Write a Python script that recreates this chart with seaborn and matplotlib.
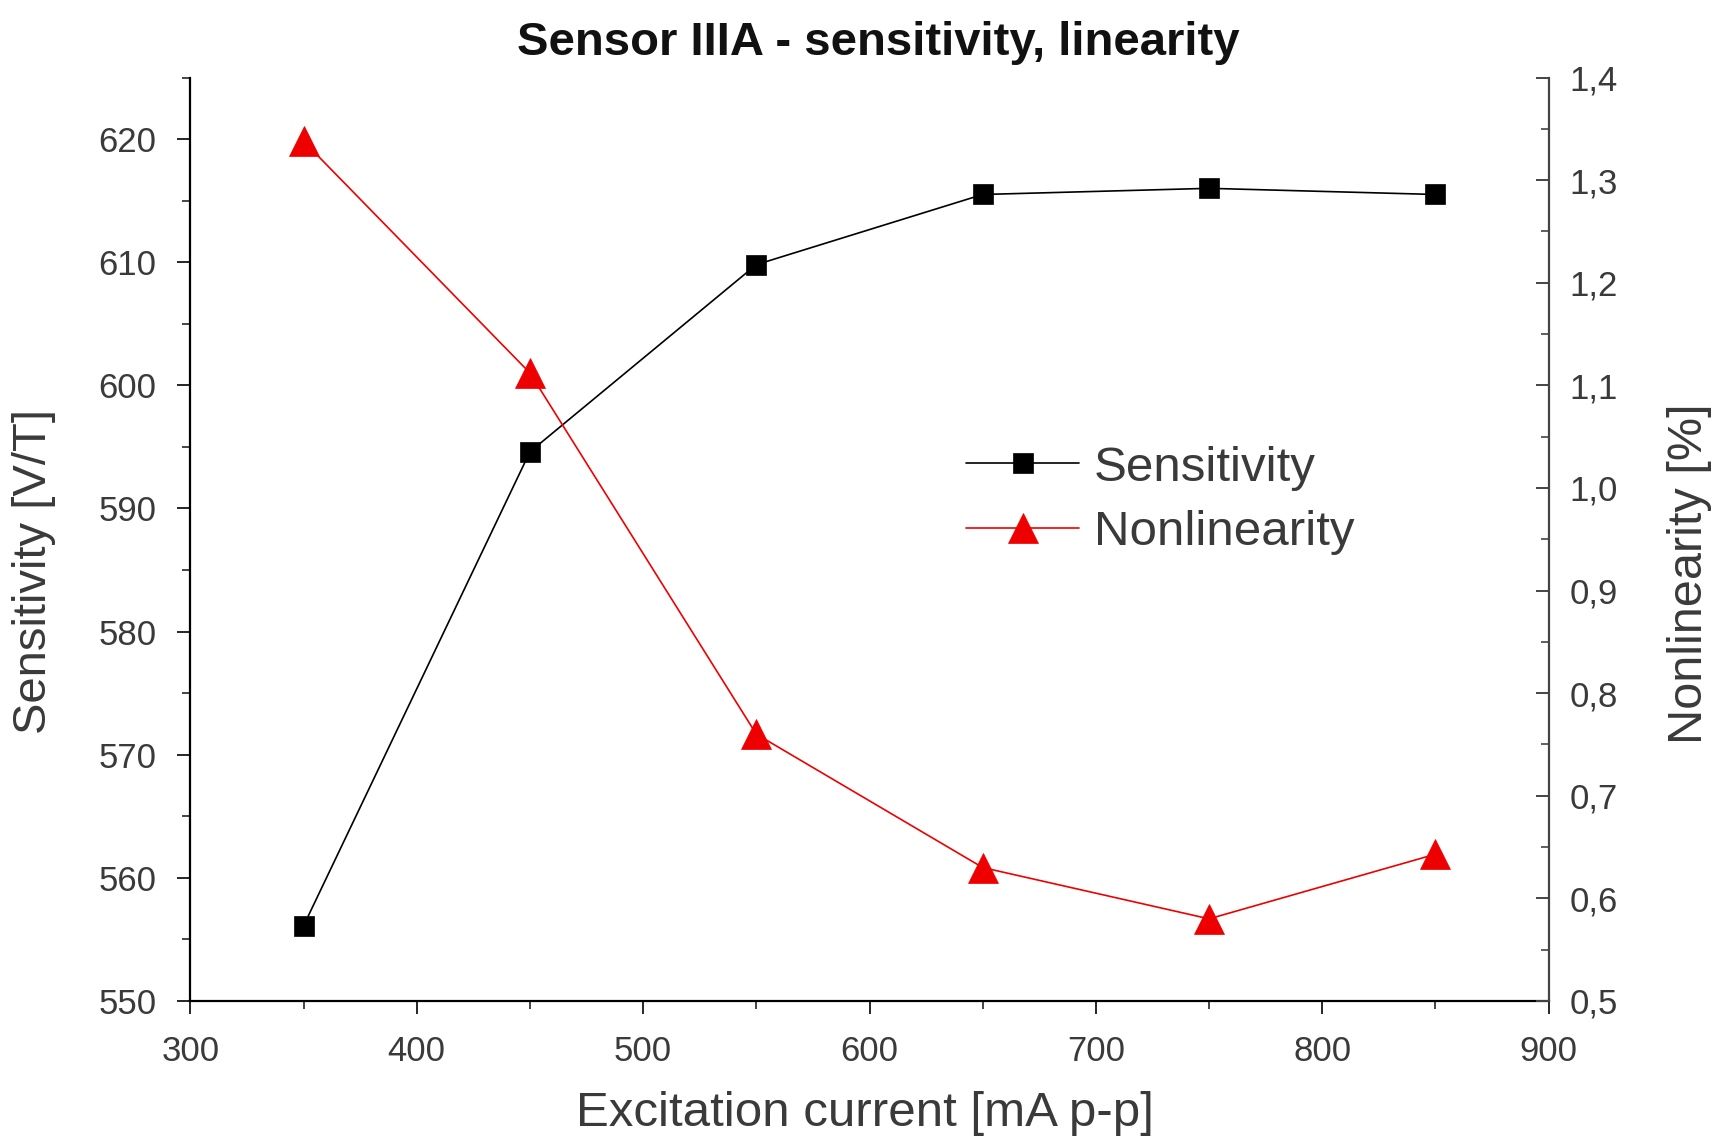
"""
Sensor IIIA - sensitivity and nonlinearity vs excitation current (twin y axes).
"""

import matplotlib
matplotlib.use("Agg")
import matplotlib.pyplot as plt
import pandas as pd
import seaborn as sns
from matplotlib.ticker import FuncFormatter, MultipleLocator

EXCITATION_MA = [350, 450, 550, 650, 750, 850]
SENSITIVITY_VT = [556.1, 594.6, 609.8, 615.5, 616.0, 615.5]
NONLINEARITY_PCT = [1.338, 1.112, 0.760, 0.630, 0.580, 0.643]

X_TICKS = [300, 400, 500, 600, 700, 800, 900]
LEFT_TICKS = [550, 560, 570, 580, 590, 600, 610, 620]
RIGHT_TICKS = [0.5, 0.6, 0.7, 0.8, 0.9, 1.0, 1.1, 1.2, 1.3, 1.4]

TEXT_GREY = "#3a3a3a"


def comma_decimal(value, _pos):
    return f"{value:.1f}".replace(".", ",")


def main():
    sns.set_style("ticks")
    plt.rcParams["font.family"] = ["Liberation Sans", "DejaVu Sans"]

    df = pd.DataFrame({
        "current": EXCITATION_MA,
        "sensitivity": SENSITIVITY_VT,
        "nonlinearity": NONLINEARITY_PCT,
    })

    fig = plt.figure(figsize=(17.15, 11.4), dpi=100)
    ax = fig.add_axes([0.111, 0.122, 0.792, 0.810])
    ax2 = ax.twinx()

    sns.lineplot(data=df, x="current", y="sensitivity", ax=ax, color="black",
                 linewidth=1.2, marker="s", markersize=14, markeredgecolor="black",
                 markeredgewidth=0.5, label="Sensitivity")
    sns.lineplot(data=df, x="current", y="nonlinearity", ax=ax2, color="#ee0000",
                 linewidth=1.2, marker="^", markersize=22, markeredgecolor="#ee0000",
                 markeredgewidth=0.5, label="Nonlinearity")

    # axis ranges and ticks
    ax.set_xlim(X_TICKS[0], X_TICKS[-1])
    ax.set_xticks(X_TICKS)
    ax.xaxis.set_minor_locator(MultipleLocator(50))
    ax.set_ylim(550, 625)
    ax.set_yticks(LEFT_TICKS)
    ax.yaxis.set_minor_locator(MultipleLocator(5))
    ax2.set_ylim(0.5, 1.4)
    ax2.set_yticks(RIGHT_TICKS)
    ax2.yaxis.set_minor_locator(MultipleLocator(0.05))
    ax2.yaxis.set_major_formatter(FuncFormatter(comma_decimal))

    for a in (ax, ax2):
        a.spines["top"].set_visible(False)
    ax.spines["right"].set_visible(False)
    for side in ("left", "bottom"):
        ax.spines[side].set_linewidth(1.6)
        ax.spines[side].set_color("black")
    for side in ("left", "bottom"):
        ax2.spines[side].set_visible(False)
    ax2.spines["right"].set_linewidth(1.6)
    ax2.spines["right"].set_color("#444444")

    ax.tick_params(axis="both", which="major", direction="out", length=9.5, width=1.4,
                   labelsize=25, labelcolor=TEXT_GREY, pad=15)
    ax.tick_params(axis="both", which="minor", direction="out", length=5.5, width=1.2)
    ax2.tick_params(axis="y", which="major", direction="in", length=9.5, width=1.4,
                    labelsize=25, labelcolor=TEXT_GREY, pad=15, color="#444444")
    ax2.tick_params(axis="y", which="minor", direction="in", length=5.5, width=1.2,
                    color="#444444")

    # labels
    ax.set_xlabel("Excitation current [mA p-p]", fontsize=35.5, color=TEXT_GREY)
    ax.set_ylabel("Sensitivity [V/T]", fontsize=34, color=TEXT_GREY)
    ax2.set_ylabel("Nonlinearity [%]", fontsize=35, color=TEXT_GREY)
    ax.xaxis.set_label_coords(0.497, -0.098)
    ax.yaxis.set_label_coords(-0.099, 0.465)
    ax2.yaxis.set_label_coords(1.087, 0.463)

    fig.suptitle("Sensor IIIA - sensitivity, linearity", x=0.512, y=0.982, va="top",
                 fontsize=34, fontweight="bold", color="#111111")

    # combined legend from both axes
    h1, l1 = ax.get_legend_handles_labels()
    h2, l2 = ax2.get_legend_handles_labels()
    if ax2.get_legend() is not None:
        ax2.get_legend().remove()
    ax.legend(h1 + h2, l1 + l2, loc="center left", bbox_to_anchor=(0.571, 0.542),
              frameon=False, fontsize=35.5, handlelength=2.3, handletextpad=0.3,
              labelspacing=0.4, borderpad=0, borderaxespad=0, labelcolor=TEXT_GREY)

    fig.savefig("out.png", dpi=100)
    plt.close(fig)


if __name__ == "__main__":
    main()
